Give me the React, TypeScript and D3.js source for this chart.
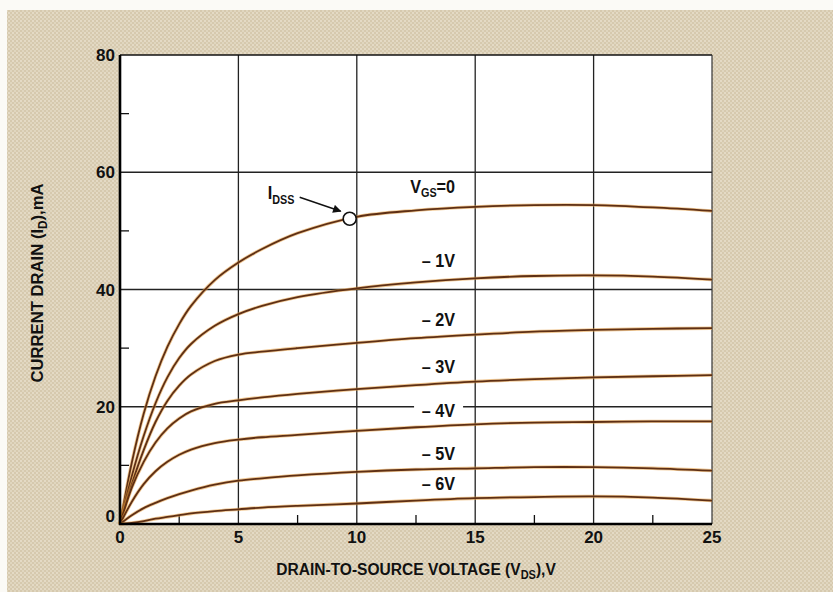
import React from "react";
import * as d3 from "d3";

// ---- data ----
const VDS = [0, 0.5, 1, 1.5, 2, 2.5, 3, 4, 5, 6, 7.5, 10, 12.5, 15, 17.5, 20, 22.5, 25];
const ID_VGS_0 = [0, 10.5, 18.8, 25.2, 30.2, 34.1, 37.2, 41.6, 44.6, 46.9, 49.6, 52.4, 53.5, 54.1, 54.4, 54.4, 54.0, 53.4];
const ID_VGS_M1 = [0, 8.2, 15.0, 20.6, 25.0, 28.3, 30.7, 33.8, 35.8, 37.2, 38.7, 40.2, 41.2, 41.9, 42.3, 42.4, 42.2, 41.7];
const ID_VGS_M2 = [0, 6.8, 12.6, 17.4, 21.0, 23.6, 25.5, 27.8, 28.9, 29.4, 30.0, 30.9, 31.7, 32.3, 32.8, 33.1, 33.3, 33.4];
const ID_VGS_M3 = [0, 6.2, 10.6, 13.9, 16.3, 18.0, 19.2, 20.5, 21.1, 21.6, 22.2, 23.0, 23.7, 24.3, 24.7, 25.0, 25.2, 25.4];
const ID_VGS_M4 = [0, 3.8, 6.8, 9.0, 10.6, 11.8, 12.7, 13.8, 14.4, 14.8, 15.2, 15.9, 16.5, 17.0, 17.3, 17.4, 17.5, 17.5];
const ID_VGS_M5 = [0, 1.5, 2.7, 3.6, 4.4, 5.1, 5.7, 6.7, 7.4, 7.8, 8.3, 8.9, 9.3, 9.5, 9.7, 9.7, 9.5, 9.1];
const ID_VGS_M6 = [0, 0.2, 0.5, 0.9, 1.2, 1.5, 1.8, 2.2, 2.5, 2.8, 3.1, 3.5, 4.0, 4.4, 4.6, 4.7, 4.5, 4.0];

const SERIES_VALUES = [ID_VGS_0, ID_VGS_M1, ID_VGS_M2, ID_VGS_M3, ID_VGS_M4, ID_VGS_M5, ID_VGS_M6];
const SERIES_LABELS = ["0", "– 1V", "– 2V", "– 3V", "– 4V", "– 5V", "– 6V"];
// label baseline positions in data units (mA)
const LABEL_Y = [56.5, 43.8, 33.8, 25.7, 18.2, 10.9, 5.8];
const LABEL_X = 14.15; // V, right edge of labels

const X_TICKS = [0, 5, 10, 15, 20, 25];
const X_MINOR = [2.5, 7.5, 12.5, 17.5, 22.5];
const Y_TICKS = [0, 20, 40, 60, 80];
const Y_MINOR = [10, 30, 50, 70];
const IDSS_VDS = 9.7;

const W = 833;
const H = 592;
const FONT = "'Liberation Sans', Arial, Helvetica, sans-serif";

export default function App() {
  React.useEffect(() => {
    document.body.style.margin = "0";
  }, []);

  const x = d3.scaleLinear().domain([0, 25]).range([120, 712]);
  const y = d3.scaleLinear().domain([0, 80]).range([524, 55]);

  const line = d3
    .line<number>()
    .x((_, i) => x(VDS[i]))
    .y((d) => y(d))
    .curve(d3.curveCatmullRom.alpha(0.5));

  const idssY = d3.scaleLinear().domain(VDS).range(ID_VGS_0)(IDSS_VDS);
  const cx = x(IDSS_VDS);
  const cy = y(idssY);

  const sx = 0.9;

  return (
    <svg width={W} height={H} style={{ position: "absolute", left: 0, top: 0, display: "block" }}>
      <defs>
        <pattern id="paper" width="4" height="4" patternUnits="userSpaceOnUse">
          <rect width="4" height="4" fill="#d6c9ae" />
          <rect x="0" y="0" width="2" height="2" fill="#e4dac5" />
          <rect x="2" y="2" width="2" height="2" fill="#e0d6bf" />
        </pattern>
        <marker id="arrow" viewBox="0 0 10 10" refX="9" refY="5" markerWidth="7" markerHeight="6" orient="auto">
          <path d="M0,0 L10,5 L0,10 z" fill="#111" />
        </marker>
      </defs>
      <rect width={W} height={H} fill="#fbfaf6" />
      <rect x={7} y={10} width={W - 7} height={H - 10} fill="url(#paper)" />

      {/* plot area */}
      <rect x={x(0)} y={y(80)} width={x(25) - x(0)} height={y(0) - y(80)} fill="#ffffff" />

      {/* grid */}
      {X_TICKS.slice(1, -1).map((t) => (
        <line key={"gx" + t} x1={x(t)} x2={x(t)} y1={y(0)} y2={y(80)} stroke="#222" strokeWidth={1.3} />
      ))}
      {Y_TICKS.slice(1, -1).map((t) => (
        <line key={"gy" + t} x1={x(0)} x2={x(25)} y1={y(t)} y2={y(t)} stroke="#222" strokeWidth={1.3} />
      ))}
      <line x1={x(0)} x2={x(25)} y1={y(80)} y2={y(80)} stroke="#111" strokeWidth={1.6} />
      <line x1={x(25)} x2={x(25)} y1={y(0)} y2={y(80)} stroke="#333" strokeWidth={1.2} />

      {/* minor ticks */}
      {Y_MINOR.map((t) => (
        <line key={"my" + t} x1={x(0)} x2={x(0) + 9} y1={y(t)} y2={y(t)} stroke="#111" strokeWidth={1.3} />
      ))}
      {X_MINOR.map((t) => (
        <line key={"mx" + t} x1={x(t)} x2={x(t)} y1={y(0)} y2={y(0) - 9} stroke="#111" strokeWidth={1.3} />
      ))}

      {/* curves */}
      {SERIES_VALUES.map((vals, i) => (
        <g key={"c" + i}>
          <path d={line(vals) || ""} fill="none" stroke="#e39a3c" strokeWidth={3.4} strokeOpacity={0.55} />
          <path d={line(vals) || ""} fill="none" stroke="#5e2f14" strokeWidth={1.8} />
        </g>
      ))}

      {/* axes */}
      <line x1={x(0)} x2={x(0)} y1={y(0) + 1} y2={y(80)} stroke="#000" strokeWidth={2.6} />
      <line x1={x(0) - 1} x2={x(25)} y1={y(0)} y2={y(0)} stroke="#000" strokeWidth={2.6} />

      {/* tick labels */}
      <g fontFamily={FONT} fontWeight="bold" fontSize={17} fill="#111">
        {Y_TICKS.map((t) => (
          <text key={"yl" + t} x={x(0) - 5} y={y(t) + (t === 0 ? -2 : 6)} textAnchor="end">
            {t}
          </text>
        ))}
        {X_TICKS.map((t) => (
          <text key={"xl" + t} x={x(t)} y={543} textAnchor="middle">
            {t}
          </text>
        ))}
      </g>

      {/* curve labels */}
      <g fontFamily={FONT} fontWeight="bold" fontSize={18} fill="#111">
        {SERIES_LABELS.map((lab, i) =>
          i === 0 ? (
            <text key={"l" + i} transform={`translate(${x(LABEL_X)},${y(LABEL_Y[i])}) scale(${sx},1)`} textAnchor="end">
              V<tspan fontSize={12} dy={4}>GS</tspan>
              <tspan dy={-4}>=0</tspan>
            </text>
          ) : (
            <g key={"l" + i}>
              {i === 4 && (
                <rect x={x(LABEL_X) - 41} y={y(LABEL_Y[i]) - 13} width={49} height={16} fill="#fff" />
              )}
              <text transform={`translate(${x(LABEL_X)},${y(LABEL_Y[i])}) scale(${sx},1)`} textAnchor="end">
                {lab}
              </text>
            </g>
          )
        )}
        <text transform={`translate(${cx - 82},${cy - 20}) scale(${sx},1)`}>
          I<tspan fontSize={12} dy={5}>DSS</tspan>
        </text>
      </g>

      {/* IDSS marker */}
      <line x1={cx - 50} y1={cy - 21.5} x2={cx - 9} y2={cy - 7.5} stroke="#111" strokeWidth={1.4} markerEnd="url(#arrow)" />
      <circle cx={cx} cy={cy} r={6.5} fill="#fff" stroke="#111" strokeWidth={1.6} />

      {/* axis titles */}
      <text
        transform={`translate(416,575) scale(0.915,1)`}
        textAnchor="middle"
        fontFamily={FONT}
        fontWeight="bold"
        fontSize={17}
        fill="#111"
      >
        DRAIN-TO-SOURCE VOLTAGE (V<tspan fontSize={12} dy={4}>DS</tspan>
        <tspan dy={-4}>),V</tspan>
      </text>
      <text
        transform={`translate(43, 283) rotate(-90) scale(0.98,1)`}
        textAnchor="middle"
        fontFamily={FONT}
        fontWeight="bold"
        fontSize={17}
        fill="#111"
      >
        CURRENT DRAIN (I<tspan fontSize={12} dy={4}>D</tspan>
        <tspan dy={-4}>),mA</tspan>
      </text>
    </svg>
  );
}
